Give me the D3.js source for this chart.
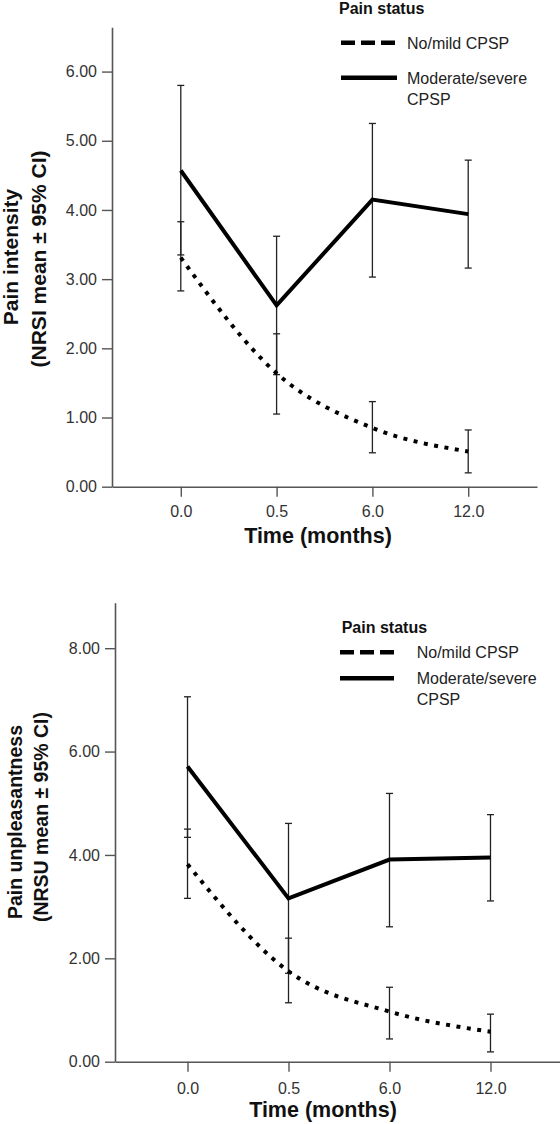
<!DOCTYPE html>
<html>
<head>
<meta charset="utf-8">
<script src="https://cdn.jsdelivr.net/npm/d3@7"></script>
<style>
  html, body { margin: 0; padding: 0; background: #fff; }
  svg { display: block; }
  text { font-family: "Liberation Sans", Arial, sans-serif; }
</style>
</head>
<body>
<svg id="chart" width="560" height="1124"></svg>
<script>
// ---------- data ----------
const timepoints = ["0.0", "0.5", "6.0", "12.0"];
const legendTitle = "Pain status";
const seriesNames = [["No/mild CPSP"], ["Moderate/severe", "CPSP"]];

// Panel 1: pain intensity (NRSI)
const intensityMild     = [3.31, 1.64, 0.85, 0.51];
const intensityMildLo   = [2.83, 1.05, 0.49, 0.20];
const intensityMildHi   = [3.83, 2.21, 1.23, 0.82];
const intensitySevere   = [4.57, 2.62, 4.15, 3.94];
const intensitySevereLo = [3.35, 1.62, 3.03, 3.16];
const intensitySevereHi = [5.80, 3.62, 5.25, 4.72];
const intensityTicks    = [0, 1, 2, 3, 4, 5, 6];

// Panel 2: pain unpleasantness (NRSU)
const unpleasMild     = [3.82, 1.75, 0.97, 0.58];
const unpleasMildLo   = [3.16, 1.14, 0.44, 0.19];
const unpleasMildHi   = [4.50, 2.39, 1.44, 0.92];
const unpleasSevere   = [5.71, 3.16, 3.91, 3.95];
const unpleasSevereLo = [4.34, 1.71, 2.61, 3.11];
const unpleasSevereHi = [7.06, 4.61, 5.19, 4.78];
const unpleasTicks    = [0, 2, 4, 6, 8];

const svg = d3.select("#chart");

function drawPanel(cfg) {
  const g = svg.append("g");
  const x = d3.scalePoint().domain(timepoints).range(cfg.xRange).padding(cfg.xPad);
  const y = d3.scaleLinear().domain([0, cfg.yMax]).range(cfg.yRange);

  // axes
  const yAxis = g.append("g")
    .attr("transform", `translate(${cfg.xRange[0]},0)`)
    .call(d3.axisLeft(y).tickValues(cfg.ticks).tickFormat(d3.format(".2f"))
      .tickSize(10).tickSizeOuter(0).tickPadding(5));
  const xAxis = g.append("g")
    .attr("transform", `translate(0,${cfg.yRange[0]})`)
    .call(d3.axisBottom(x).tickSize(10).tickSizeOuter(0).tickPadding(cfg.xTickPad));
  [yAxis, xAxis].forEach(a => {
    a.select(".domain").attr("stroke", "#555").attr("stroke-width", 1.6);
    a.selectAll(".tick line").attr("stroke", "#555").attr("stroke-width", 1.4);
    a.selectAll(".tick text").attr("fill", "#333").style("font-size", "16px")
      .style("font-family", "'Liberation Sans', Arial, sans-serif");
  });

  // error bars
  const series = [
    { m: cfg.mild, lo: cfg.mildLo, hi: cfg.mildHi },
    { m: cfg.severe, lo: cfg.severeLo, hi: cfg.severeHi }
  ];
  series.forEach(s => {
    const eb = g.append("g").attr("stroke", "#222").attr("stroke-width", 1.3).attr("fill", "none");
    timepoints.forEach((t, i) => {
      const cx = x(t);
      eb.append("line").attr("x1", cx).attr("x2", cx).attr("y1", y(s.lo[i])).attr("y2", y(s.hi[i]));
      eb.append("line").attr("x1", cx - 3.5).attr("x2", cx + 3.5).attr("y1", y(s.lo[i])).attr("y2", y(s.lo[i]));
      eb.append("line").attr("x1", cx - 3.5).attr("x2", cx + 3.5).attr("y1", y(s.hi[i])).attr("y2", y(s.hi[i]));
    });
  });

  // lines
  const lineSolid = d3.line().x((d, i) => x(timepoints[i])).y(d => y(d));
  const lineDotted = d3.line().x((d, i) => x(timepoints[i])).y(d => y(d)).curve(d3.curveMonotoneX);
  g.append("path").datum(cfg.severe).attr("d", lineSolid)
    .attr("fill", "none").attr("stroke", "#000").attr("stroke-width", 4).attr("stroke-linejoin", "miter");
  g.append("path").datum(cfg.mild).attr("d", lineDotted)
    .attr("fill", "none").attr("stroke", "#000").attr("stroke-width", 4)
    .attr("stroke-dasharray", "4,6.5");

  // axis titles
  g.append("text").attr("x", cfg.xTitle[0]).attr("y", cfg.xTitle[1])
    .attr("text-anchor", "middle").style("font-size", cfg.titleSize + "px").style("font-weight", "bold")
    .attr("fill", "#111").text("Time (months)");
  cfg.yTitle.forEach((line, k) => {
    g.append("text")
      .attr("transform", `translate(${cfg.yTitleX[k]},${cfg.yTitleY[k]}) rotate(-90)`)
      .attr("text-anchor", "middle").style("font-size", cfg.yTitleSize + "px").style("font-weight", "bold")
      .attr("fill", "#111").text(line);
  });

  // legend
  const L = cfg.legend;
  const lg = g.append("g");
  lg.append("text").attr("x", L.titleX).attr("y", L.titleY)
    .style("font-size", "16px").style("font-weight", "bold").attr("fill", "#111").text(legendTitle);
  seriesNames.forEach((name, k) => {
    const ly = L.rowY[k];
    lg.append("line").attr("x1", L.lineX[0]).attr("x2", L.lineX[1]).attr("y1", ly).attr("y2", ly)
      .attr("stroke", "#000").attr("stroke-width", 4.5)
      .attr("stroke-dasharray", k === 0 ? "14,6" : null);
    const t = lg.append("text").attr("x", L.textX).attr("y", ly + 6)
      .style("font-size", "16px").attr("fill", "#222");
    name.forEach((part, j) => {
      t.append("tspan").attr("x", L.textX).attr("dy", j === 0 ? 0 : 21).text(part);
    });
  });
}

drawPanel({
  mild: intensityMild, mildLo: intensityMildLo, mildHi: intensityMildHi,
  severe: intensitySevere, severeLo: intensitySevereLo, severeHi: intensitySevereHi,
  ticks: intensityTicks, yMax: 6.64,
  xRange: [112, 537], xPad: 0.718, yRange: [486.7, 27.3], xTickPad: 9,
  xTitle: [318, 543], titleSize: 21.5,
  yTitle: ["Pain intensity", "(NRSI mean \u00b1 95% CI)"], yTitleX: [18, 46], yTitleY: [257, 259], yTitleSize: 21,
  legend: { titleX: 339, titleY: 13.5, lineX: [341, 397], textX: 407, rowY: [42.7, 77.7] }
});

drawPanel({
  mild: unpleasMild, mildLo: unpleasMildLo, mildHi: unpleasMildHi,
  severe: unpleasSevere, severeLo: unpleasSevereLo, severeHi: unpleasSevereHi,
  ticks: unpleasTicks, yMax: 8.88,
  xRange: [115, 563], xPad: 0.718, yRange: [1061.7, 602.7], xTickPad: 11,
  xTitle: [323, 1116.5], titleSize: 21.5,
  yTitle: ["Pain unpleasantness", "(NRSU mean \u00b1 95% CI)"], yTitleX: [22, 47.5], yTitleY: [822, 817], yTitleSize: 19.5,
  legend: { titleX: 341.7, titleY: 633, lineX: [340, 394], textX: 416.7, rowY: [652.3, 678.3] }
});
</script>
</body>
</html>
